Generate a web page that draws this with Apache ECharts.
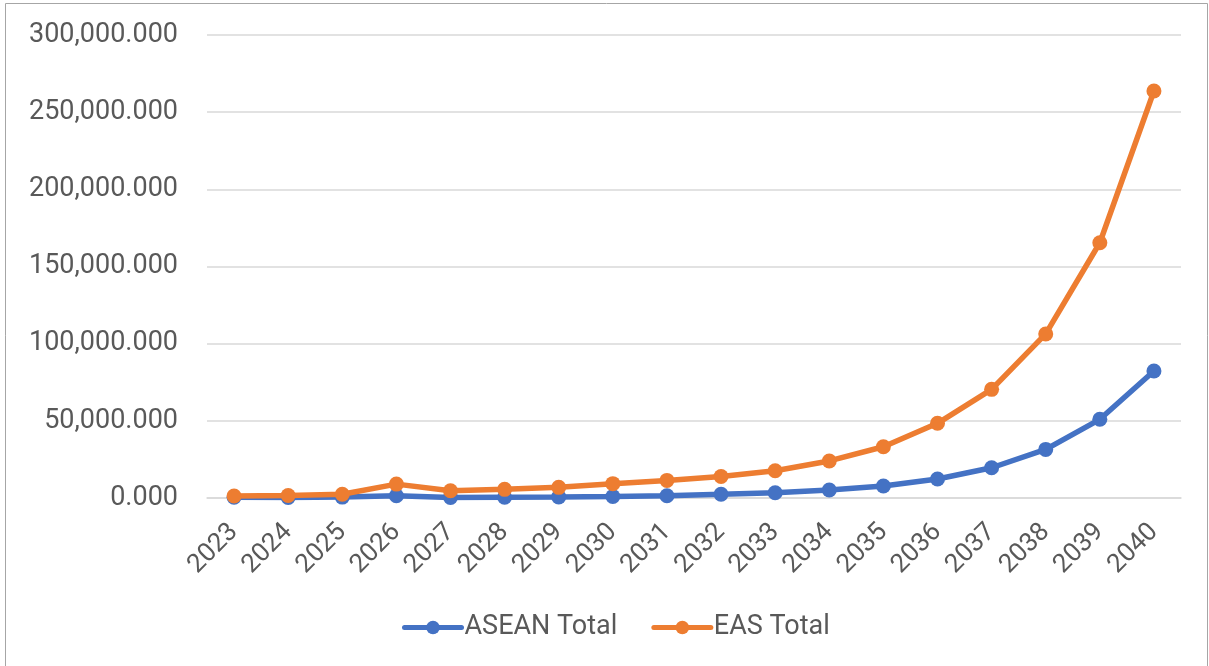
<!DOCTYPE html>
<html>
<head>
<meta charset="utf-8">
<script src="https://cdn.jsdelivr.net/npm/echarts@6/dist/echarts.min.js"></script>
<style>
  html, body { margin: 0; padding: 0; background: #ffffff; }
  #chart { width: 1209px; height: 666px; }
</style>
</head>
<body>
<div id="chart"></div>
<script>
// Years on the category axis
const years = ['2023','2024','2025','2026','2027','2028','2029','2030','2031','2032',
               '2033','2034','2035','2036','2037','2038','2039','2040'];

// Annual totals
const aseanTotal = [500, 300, 600, 1500, 300, 500, 700, 1000, 1500, 2400,
                    3400, 5200, 7800, 12300, 19600, 31500, 51000, 82300];
const easTotal   = [1300, 1600, 2400, 9000, 4700, 5600, 6900, 9300, 11400, 13900,
                    17700, 24000, 33200, 48400, 70400, 106300, 165400, 263700];

// Value axis ticks
const yMin = 0, yMax = 300000, yStep = 50000;

const fontFam = 'Roboto, "Noto Sans", sans-serif';
const textColor = '#595959';

function fmt(v) {
  return v.toLocaleString('en-US', { minimumFractionDigits: 3, maximumFractionDigits: 3 });
}

const chart = echarts.init(document.getElementById('chart'), null, { renderer: 'canvas' });

chart.setOption({
  backgroundColor: '#ffffff',
  animation: false,
  graphic: [{
    type: 'rect',
    shape: { x: 5.5, y: 3.5, width: 1202, height: 670 },
    style: { fill: 'none', stroke: '#a6a6a6', lineWidth: 1 },
    silent: true
  }],
  grid: { left: 207, right: 28, top: 35, bottom: 168, containLabel: false },
  legend: {
    top: 609,
    left: 397,
    itemWidth: 57,
    itemHeight: 17,
    itemGap: 34,
    lineStyle: { width: 5, cap: 'round' },
    textStyle: { color: textColor, fontSize: 27, fontFamily: fontFam, padding: [0, 0, 0, -2] },
    data: ['ASEAN Total', 'EAS Total']
  },
  xAxis: {
    type: 'category',
    data: years,
    boundaryGap: true,
    axisLine: { show: true, lineStyle: { color: '#d9d9d9', width: 1.5 } },
    axisTick: { show: false },
    axisLabel: {
      rotate: 45,
      color: textColor,
      fontSize: 26,
      fontFamily: fontFam,
      margin: 30,
      interval: 0
    }
  },
  yAxis: {
    type: 'value',
    min: yMin,
    max: yMax,
    interval: yStep,
    axisLine: { show: false },
    axisTick: { show: false },
    splitLine: { lineStyle: { color: '#d9d9d9', width: 1.5 } },
    axisLabel: {
      color: textColor,
      fontSize: 27,
      fontFamily: fontFam,
      margin: 29,
      formatter: fmt
    }
  },
  series: [
    {
      name: 'ASEAN Total',
      type: 'line',
      data: aseanTotal,
      symbol: 'circle',
      symbolSize: 15,
      lineStyle: { color: '#4472c4', width: 5.5 },
      itemStyle: { color: '#4472c4' },
      z: 2
    },
    {
      name: 'EAS Total',
      type: 'line',
      data: easTotal,
      symbol: 'circle',
      symbolSize: 15,
      lineStyle: { color: '#ed7d31', width: 5.5 },
      itemStyle: { color: '#ed7d31' },
      z: 3
    }
  ]
});
</script>
</body>
</html>
